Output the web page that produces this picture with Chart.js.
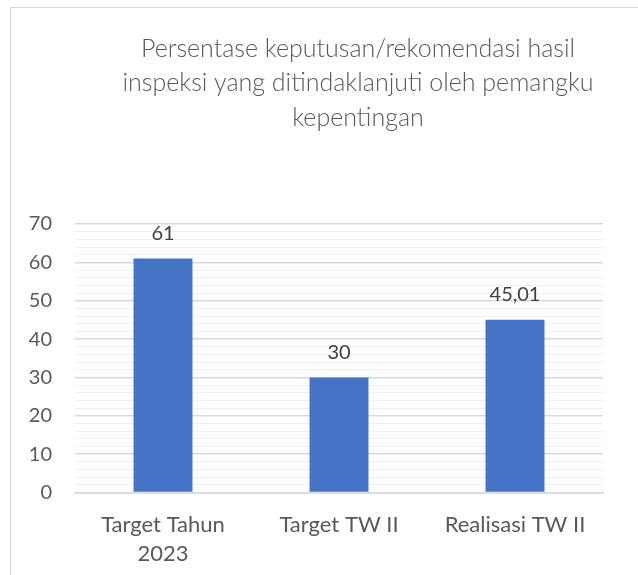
<!DOCTYPE html>
<html>
<head>
<meta charset="utf-8">
<script src="https://cdn.jsdelivr.net/npm/chart.js@4.4.1/dist/chart.umd.min.js"></script>
<style>
  html, body { margin: 0; padding: 0; background: #fff; }
  #wrap { position: relative; width: 638px; height: 575px; overflow: hidden; }
  #frame { position: absolute; left: 10px; top: 7px; width: 800px; height: 800px; border: 1.5px solid #d9d9d9; box-sizing: border-box; }
  #c { position: absolute; left: 0; top: 0; }
</style>
</head>
<body>
<div id="wrap">
  <div id="frame"></div>
  <canvas id="c" width="716" height="575"></canvas>
</div>
<script>
const titleLines = ["Persentase keputusan/rekomendasi hasil", "inspeksi yang ditindaklanjuti oleh pemangku", "kepentingan"];
const categories = [["Target Tahun", "2023"], "Target TW II", "Realisasi TW II"];
const values = [61, 30, 45.01];
const valueLabels = ["61", "30", "45,01"];
const yMin = 0, yMax = 70, yStep = 2, yLabelStep = 10;

const FONT = "Lato, Carlito, 'Open Sans', sans-serif";

const dataLabelPlugin = {
  id: 'dataLabels',
  afterDatasetsDraw(chart) {
    const ctx = chart.ctx;
    const meta = chart.getDatasetMeta(0);
    ctx.save();
    ctx.font = "20px " + FONT;
    ctx.fillStyle = "#404040";
    ctx.textAlign = "center";
    ctx.textBaseline = "middle";
    meta.data.forEach((bar, i) => {
      ctx.fillText(valueLabels[i], bar.x, bar.y - 25);
    });
    ctx.restore();
  }
};

new Chart(document.getElementById('c'), {
  type: 'bar',
  data: {
    labels: categories,
    datasets: [{
      data: values,
      backgroundColor: '#4472C4',
      borderWidth: 0,
      barPercentage: 0.335,
      categoryPercentage: 1.0
    }]
  },
  options: {
    responsive: false,
    animation: false,
    devicePixelRatio: 1,
    layout: { padding: { left: 0, right: 0, top: 0, bottom: 0 } },
    plugins: {
      legend: { display: false },
      tooltip: { enabled: false },
      title: {
        display: true,
        text: titleLines,
        color: '#595959',
        font: { family: FONT, size: 25, weight: 300, lineHeight: 1.38 },
        padding: { top: 31.5, bottom: 89 }
      }
    },
    scales: {
      x: {
        grid: { display: false },
        border: { display: true, color: '#d9d9d9', width: 1.5 },
        ticks: {
          color: '#595959',
          font: { family: FONT, size: 22, lineHeight: 1.36 },
          padding: 9,
          maxRotation: 0,
          autoSkip: false
        },
        afterFit(scale) { scale.height = 575 - 492.5; }
      },
      y: {
        min: yMin,
        max: yMax,
        grid: {
          drawTicks: false,
          color: (c) => (c.tick && c.tick.value % yLabelStep === 0) ? '#d9d9d9' : '#f0f0f0',
          lineWidth: (c) => (c.tick && c.tick.value % yLabelStep === 0) ? 1.5 : 1
        },
        border: { display: false },
        ticks: {
          stepSize: yStep,
          autoSkip: false,
          color: '#595959',
          font: { family: FONT, size: 20 },
          padding: 23,
          callback: (v) => (v % yLabelStep === 0 ? String(v) : '')
        },
        afterFit(scale) { scale.width = 75; }
      },
      y2: {
        position: 'right',
        display: true,
        grid: { display: false, drawTicks: false },
        border: { display: false },
        ticks: { display: false },
        afterFit(scale) { scale.width = 716 - 603; }
      }
    }
  },
  plugins: [dataLabelPlugin]
});
</script>
</body>
</html>
